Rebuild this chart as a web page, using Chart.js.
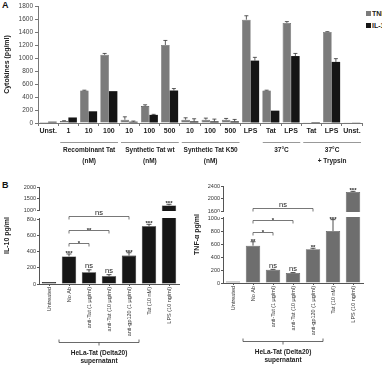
<!DOCTYPE html>
<html>
<head>
<meta charset="utf-8">
<script src="https://cdn.jsdelivr.net/npm/chart.js@4.4.1/dist/chart.umd.min.js"></script>
<style>
  html, body { margin: 0; padding: 0; background: #fff; overflow: hidden; width: 382px; height: 365px; }
  body { position: relative; font-family: "Liberation Sans", Arial, sans-serif; }
  canvas { position: absolute; }
  .panel { position: absolute; font-weight: bold; font-size: 9px; color: #111; }
  .legend { position: absolute; left: 366px; font-size: 7px; font-weight: bold; white-space: nowrap; color: #222; line-height: 8px; }
  .legend i { display: inline-block; width: 5px; height: 5px; margin-right: 1px; }
</style>
</head>
<body>
<div class="panel" style="left:2px;top:0">A</div>
<div class="panel" style="left:2px;top:180px">B</div>
<div class="legend" style="top:10px"><i style="background:#7b7b7b"></i>TNF-α</div>
<div class="legend" style="top:22px"><i style="background:#151515"></i>IL-10</div>
<canvas id="chartA" width="382" height="170" style="left:0;top:0"></canvas>
<canvas id="chartIl10" width="190" height="185" style="left:0;top:180px"></canvas>
<canvas id="chartTnf" width="192" height="185" style="left:190px;top:180px"></canvas>
<script>
'use strict';

// ---- panel A data ----
var catsA = ['Unst.', '1', '10', '100', '10', '100', '500', '10', '100', '500', 'LPS', 'Tat', 'LPS', 'Tat', 'LPS', 'Unst.'];
var tnfA = [15, 30, 500, 1050, 50, 260, 1200, 50, 50, 50, 1590, 500, 1540, 10, 1400, 5];
var tnfErrA = [0, 5, 5, 20, 45, 20, 70, 30, 25, 20, 60, 5, 20, 0, 5, 0];
var il10A = [20, 85, 180, 490, 20, 125, 500, 25, 25, 25, 960, 190, 1030, 15, 940, 5];
var il10ErrA = [0, 0, 0, 0, 10, 8, 30, 40, 35, 30, 50, 0, 40, 0, 50, 0];
var groupsA = [
  { from: 1, to: 3, text: ['Recombinant Tat', '(nM)'] },
  { from: 4, to: 6, text: ['Synthetic Tat wt', '(nM)'] },
  { from: 7, to: 9, text: ['Synthetic Tat K50', '(nM)'] },
  { from: 11, to: 12, text: ['37°C'] },
  { from: 13, to: 15, text: ['37°C', '+ Trypsin'] }
];
var ticksA = [0, 200, 400, 600, 800, 1000, 1200, 1400, 1600, 1800];

// ---- panel B data ----
var catsB = ['Untreated', 'No Ab', 'anti-Tat (1 µg/ml)', 'anti-Tat (10 µg/ml)', 'anti-gp120 (1 µg/ml)', 'Tat (10 nM)', 'LPS (10 ng/ml)'];
var il10B = [25, 340, 145, 95, 350, 710, 1200];
var il10ErrB = [0, 30, 30, 20, 35, 25, 50];
var il10SigB = ['', '***', 'ns', 'ns', '***', '***', '***'];
var il10Brackets = [[1, 2, '*', 500], [1, 3, '**', 665], [1, 4, 'ns', 860]];
var il10Ticks = [0, 200, 400, 600, 800, 1000, 1500, 2000];

var tnfB = [25, 575, 205, 155, 520, 800, 2210];
var tnfErrB = [0, 60, 5, 5, 15, 175, 20];
var tnfSigB = ['', '**', 'ns', 'ns', '**', '***', '***'];
var tnfBrackets = [[1, 2, '*', 790], [1, 3, '*', 970], [1, 4, 'ns', 1700]];
var tnfTicks = [0, 200, 400, 600, 800, 1000, 1600, 2000, 2400];

var groupB = { from: 1, to: 4, text: ['HeLa-Tat (Delta20)', 'supernatant'] };

var FONT = '"Liberation Sans", Arial, sans-serif';
Chart.defaults.font.family = FONT;
Chart.defaults.color = '#333';

// linear axis with a gap between brk.low and brk.high
class BrokenLinearScale extends Chart.LinearScale {
  buildTicks() {
    return this.options.tickValues.map(function (v) { return { value: v }; });
  }
  valueToDecimal(v) {
    var b = this.options.brk;
    var upper = 1 - b.lowFrac - b.gapFrac;
    if (v <= b.low) return v / b.low * b.lowFrac;
    if (v <= b.high) return b.lowFrac + (v - b.low) / (b.high - b.low) * b.gapFrac;
    return b.lowFrac + b.gapFrac + (v - b.high) / (this.max - b.high) * upper;
  }
  getPixelForValue(v) {
    if (v === null || v === undefined) return NaN;
    return this.getPixelForDecimal(this.valueToDecimal(v));
  }
  getValueForPixel(p) {
    var d = this.getDecimalForPixel(p), b = this.options.brk;
    var upper = 1 - b.lowFrac - b.gapFrac;
    if (d <= b.lowFrac) return d / b.lowFrac * b.low;
    if (d <= b.lowFrac + b.gapFrac) return b.low + (d - b.lowFrac) / b.gapFrac * (b.high - b.low);
    return b.high + (d - b.lowFrac - b.gapFrac) / upper * (this.max - b.high);
  }
}
BrokenLinearScale.id = 'brokenLinear';
BrokenLinearScale.defaults = Chart.LinearScale.defaults;
Chart.register(BrokenLinearScale);

function drawErrorBar(ctx, x, yTop, yBar, cap) {
  ctx.beginPath();
  ctx.moveTo(x, yBar);
  ctx.lineTo(x, yTop);
  ctx.moveTo(x - cap, yTop);
  ctx.lineTo(x + cap, yTop);
  ctx.stroke();
}

// ---------- panel A ----------
var panelAPlugin = {
  id: 'panelAExtras',
  afterDatasetsDraw: function (chart) {
    var ctx = chart.ctx, y = chart.scales.y, x = chart.scales.x;
    var errs = [tnfErrA, il10ErrA];
    ctx.save();
    ctx.strokeStyle = '#333';
    ctx.lineWidth = 0.8;
    chart.data.datasets.forEach(function (ds, di) {
      chart.getDatasetMeta(di).data.forEach(function (bar, i) {
        var e = errs[di][i];
        if (!e) return;
        drawErrorBar(ctx, bar.x, y.getPixelForValue(ds.data[i] + e), bar.y, 2);
      });
    });

    // group brackets under the category labels
    var step = x.getPixelForValue(1) - x.getPixelForValue(0);
    var base = chart.chartArea.bottom;
    ctx.strokeStyle = '#999';
    ctx.lineWidth = 1;
    ctx.fillStyle = '#222';
    ctx.font = 'bold 6.5px ' + FONT;
    ctx.textAlign = 'center';
    ctx.textBaseline = 'middle';
    groupsA.forEach(function (g) {
      var x1 = x.getPixelForValue(g.from) - step / 2 + 2;
      var x2 = x.getPixelForValue(g.to) + step / 2 - 1;
      ctx.beginPath();
      ctx.moveTo(x1, Math.round(base + 19) + 0.5);
      ctx.lineTo(x2, Math.round(base + 19) + 0.5);
      ctx.stroke();
      g.text.forEach(function (t, k) {
        ctx.fillText(t, (x1 + x2) / 2, base + 27.5 + k * 10.5);
      });
    });
    ctx.restore();
  }
};

new Chart(document.getElementById('chartA').getContext('2d'), {
  type: 'bar',
  data: {
    labels: catsA,
    datasets: [
      { label: 'TNF-α', data: tnfA, backgroundColor: '#7b7b7b', borderColor: '#4d4d4d', borderWidth: 0.6 },
      { label: 'IL-10', data: il10A, backgroundColor: '#151515' }
    ]
  },
  options: {
    responsive: false,
    animation: false,
    categoryPercentage: 0.84,
    barPercentage: 1,
    layout: { padding: { top: 6, right: 20, left: 0, bottom: 0 } },
    plugins: { legend: { display: false }, tooltip: { enabled: false } },
    scales: {
      x: {
        grid: { drawOnChartArea: false, tickLength: 3, color: '#777' },
        border: { color: '#777' },
        ticks: { font: { size: 7, weight: 'bold' }, color: '#222', padding: 1, autoSkip: false, maxRotation: 0 },
        afterFit: function (s) { s.height = 47; }
      },
      y: {
        min: 0,
        max: 1800,
        afterBuildTicks: function (s) { s.ticks = ticksA.map(function (v) { return { value: v }; }); },
        grid: { drawOnChartArea: false, tickLength: 3, color: '#777' },
        border: { color: '#777' },
        ticks: { font: { size: 6.5 }, color: '#444', padding: 2, callback: function (v) { return String(v); } },
        title: { display: true, text: 'Cytokines (pg/ml)', font: { size: 7, weight: 'bold' }, color: '#222', padding: { top: 3, bottom: 0 } },
        afterFit: function (s) { s.width = 38; }
      }
    }
  },
  plugins: [panelAPlugin]
});

// ---------- panel B ----------
function makeBrokenChart(cfg) {
  var extras = {
    id: 'brokenExtras',
    afterDatasetsDraw: function (chart) {
      var ctx = chart.ctx, y = chart.scales.y, x = chart.scales.x;
      var area = chart.chartArea;
      var ds = chart.data.datasets[0];
      ctx.save();

      // white gap at the axis break
      var yLow = y.getPixelForValue(cfg.brk.low), yHigh = y.getPixelForValue(cfg.brk.high);
      ctx.fillStyle = '#fff';
      ctx.fillRect(area.left - 6, yHigh + 1, area.right - area.left + 6, yLow - yHigh - 2);

      // error bars and significance marks above bars
      ctx.strokeStyle = '#222';
      ctx.lineWidth = 0.8;
      ctx.fillStyle = '#222';
      ctx.textAlign = 'center';
      ctx.textBaseline = 'alphabetic';
      chart.getDatasetMeta(0).data.forEach(function (bar, i) {
        var topV = ds.data[i] + cfg.errs[i];
        var yTop = y.getPixelForValue(topV);
        if (cfg.errs[i]) drawErrorBar(ctx, bar.x, yTop, bar.y, 2.5);
        var s = cfg.sigs[i];
        if (!s) return;
        if (s === 'ns') {
          ctx.font = '7.5px ' + FONT;
          ctx.fillText(s, bar.x, yTop - 1.5);
        } else {
          ctx.font = 'bold 6px ' + FONT;
          ctx.fillText(s, bar.x, yTop + 1);
        }
      });

      // comparison brackets
      ctx.strokeStyle = '#555';
      cfg.brackets.forEach(function (b) {
        var x1 = x.getPixelForValue(b[0]), x2 = x.getPixelForValue(b[1]);
        var yy = Math.round(y.getPixelForValue(b[3])) + 0.5;
        ctx.beginPath();
        ctx.moveTo(x1, yy + 3);
        ctx.lineTo(x1, yy);
        ctx.lineTo(x2, yy);
        ctx.lineTo(x2, yy + 3);
        ctx.stroke();
        if (b[2] === 'ns') {
          ctx.font = '7.5px ' + FONT;
          ctx.fillText(b[2], (x1 + x2) / 2, yy - 1.5);
        } else {
          ctx.font = 'bold 6px ' + FONT;
          ctx.fillText(b[2], (x1 + x2) / 2, yy + 1);
        }
      });

      // group bracket under the rotated labels
      var step = x.getPixelForValue(1) - x.getPixelForValue(0);
      var g = groupB;
      var gx1 = x.getPixelForValue(g.from) - step / 2;
      var gx2 = x.getPixelForValue(g.to) + step / 2;
      var gy = Math.round(area.bottom + 58) + 0.5;
      ctx.strokeStyle = '#444';
      ctx.beginPath();
      ctx.moveTo(gx1, gy - 3);
      ctx.lineTo(gx1, gy);
      ctx.lineTo(gx2, gy);
      ctx.lineTo(gx2, gy - 3);
      ctx.moveTo((gx1 + gx2) / 2, gy);
      ctx.lineTo((gx1 + gx2) / 2, gy + 3);
      ctx.stroke();
      ctx.font = 'bold 6.5px ' + FONT;
      ctx.textBaseline = 'middle';
      ctx.fillStyle = '#222';
      g.text.forEach(function (t, k) {
        ctx.fillText(t, (gx1 + gx2) / 2, area.bottom + 69.5 + k * 8);
      });
      ctx.restore();
    }
  };

  return new Chart(document.getElementById(cfg.id).getContext('2d'), {
    type: 'bar',
    data: {
      labels: catsB,
      datasets: [{ label: cfg.title, data: cfg.values, backgroundColor: cfg.color, borderColor: cfg.border, borderWidth: 0.6 }]
    },
    options: {
      responsive: false,
      animation: false,
      categoryPercentage: 0.72,
      barPercentage: 1,
      layout: { padding: { top: cfg.padTop, right: cfg.padRight, left: 0, bottom: 0 } },
      plugins: { legend: { display: false }, tooltip: { enabled: false } },
      scales: {
        x: {
          grid: { drawOnChartArea: false, offset: false, tickLength: 2, color: '#555' },
          border: { color: '#555' },
          ticks: { font: { size: 5.5 }, color: '#333', padding: 1, autoSkip: false, minRotation: 90, maxRotation: 90 },
          afterFit: function (s) { s.height = cfg.xHeight; }
        },
        y: {
          type: 'brokenLinear',
          min: 0,
          max: cfg.max,
          tickValues: cfg.ticks,
          brk: cfg.brk,
          grid: { drawOnChartArea: false, tickLength: 2, color: '#555' },
          border: { color: '#555' },
          ticks: { font: { size: 5.5 }, color: '#333', padding: 1, callback: function (v) { return String(v); } },
          title: { display: true, text: cfg.title, font: { size: 7, weight: 'bold' }, color: '#222', padding: { top: 3, bottom: 0 } },
          afterFit: function (s) { s.width = cfg.yWidth; }
        }
      }
    },
    plugins: [extras]
  });
}

makeBrokenChart({
  id: 'chartIl10', title: 'IL-10 pg/ml',
  values: il10B, errs: il10ErrB, sigs: il10SigB, brackets: il10Brackets, ticks: il10Ticks,
  max: 2000, brk: { low: 800, high: 1000, lowFrac: 65 / 97, gapFrac: 9 / 97 },
  color: '#161616', border: '#000',
  padTop: 7, padRight: 11, yWidth: 39, xHeight: 81
});

makeBrokenChart({
  id: 'chartTnf', title: 'TNF-α pg/ml',
  values: tnfB, errs: tnfErrB, sigs: tnfSigB, brackets: tnfBrackets, ticks: tnfTicks,
  max: 2400, brk: { low: 1000, high: 1600, lowFrac: 65 / 97, gapFrac: 7 / 97 },
  color: '#6e6e6e', border: '#3c3c3c',
  padTop: 6, padRight: 19, yWidth: 33, xHeight: 82
});
</script>
</body>
</html>
